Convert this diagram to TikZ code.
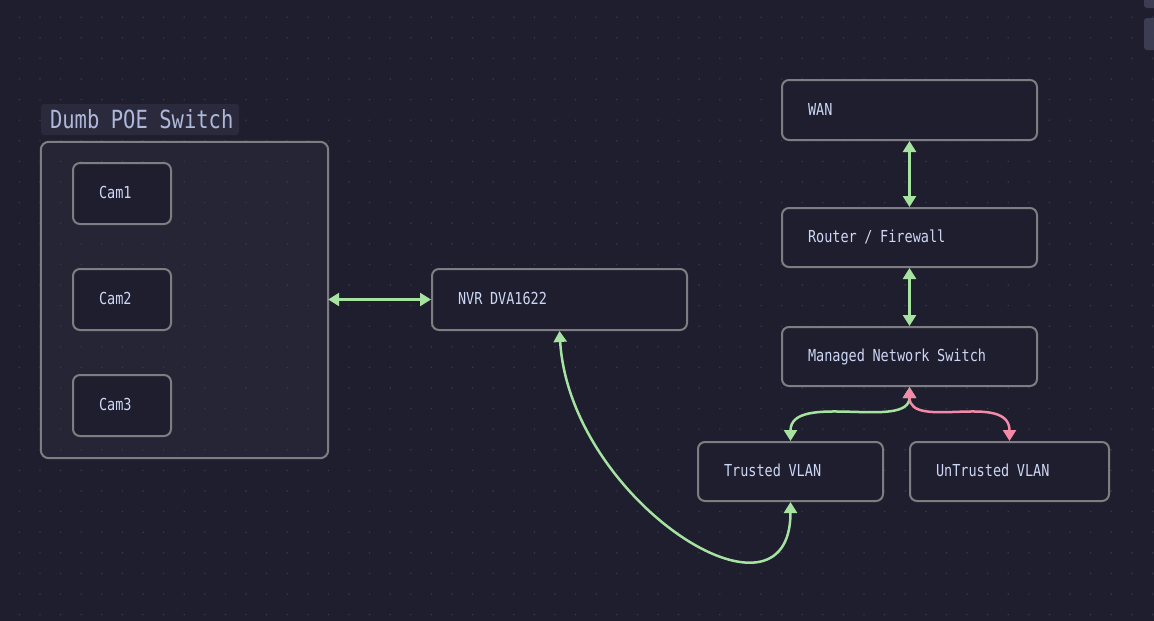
\documentclass[tikz,border=0pt]{standalone}
\usepackage{fontspec}
\newfontfamily\monof[FakeStretch=0.82]{DejaVu Sans Mono}
\newcommand\msp{\hbox to 0.46em{}}
\usetikzlibrary{arrows.meta}
\definecolor{bgc}{HTML}{1E1E2E}
\definecolor{nodec}{HTML}{1E1E2E}
\definecolor{groupc}{HTML}{252535}
\definecolor{titlec}{HTML}{2A2A3C}
\definecolor{bordc}{HTML}{7E7E82}
\definecolor{txtc}{HTML}{CDD6F4}
\definecolor{titletxt}{HTML}{AEB8DA}
\definecolor{dotc}{HTML}{3A3B50}
\definecolor{greenc}{HTML}{A6E3A1}
\definecolor{pinkc}{HTML}{F38BA8}
\definecolor{uic}{HTML}{3C3D52}
\begin{document}
\begin{tikzpicture}[x=1pt,y=-1pt,
  box/.style={draw=bordc, line width=2pt, rounded corners=7pt, fill=nodec,
    inner xsep=26pt, inner ysep=0pt, text height=12pt, text depth=2pt,
    align=left, text=txtc, font=\monof\fontsize{16.5}{18}\selectfont},
  groupbox/.style={rounded corners=8pt, fill=groupc,
    minimum width=287pt, minimum height=316pt, inner sep=0pt},
  titlebox/.style={fill=titlec, rounded corners=3pt, inner xsep=9pt, inner ysep=0pt,
    text height=19pt, text depth=0.6pt, minimum height=31pt, align=left,
    text=titletxt, font=\monof\fontsize{25}{27}\selectfont},
  link/.style={line width=2.5pt, draw=#1, {Triangle[length=11pt,width=13pt]}-{Triangle[length=11pt,width=13pt]}}
]
\useasboundingbox (0,0) rectangle (1154,621);
\fill[bgc] (0,0) rectangle (1154,621);
% UI elements in corner
\fill[uic, rounded corners=3pt] (1144,-6) rectangle (1162,8);
\fill[uic, rounded corners=3pt] (1144,18) rectangle (1162,50);

% group
\node[groupbox] (group) at (184.5,300) {};

% dot grid
\foreach \i in {0,...,56}{\foreach \j in {0,...,30}{
  \fill[dotc] (-1.2+20.6*\i, -3.4+20.6*\j) circle (0.8pt);}}

\draw[bordc, line width=2pt, rounded corners=8pt] (group.north west) rectangle (group.south east);

\node[titlebox, text width=180pt] (title) at (140,119.5) {Dumb\msp POE\msp Switch};

\node[box, text width=46pt, minimum height=61pt] (cam1) at (122,193.5) {Cam1};
\node[box, text width=46pt, minimum height=61pt] (cam2) at (122,299.5) {Cam2};
\node[box, text width=46pt, minimum height=61pt] (cam3) at (122,405.5) {Cam3};

\node[box, text width=203pt, minimum height=61pt] (nvr) at (559.5,299.5) {NVR\msp DVA1622};
\node[box, text width=203pt, minimum height=60pt] (wan) at (909.5,110) {WAN};
\node[box, text width=203pt, minimum height=59pt] (router) at (909.5,237.5) {Router\msp/\msp Firewall};
\node[box, text width=203pt, minimum height=59pt] (managed) at (909.5,356.5) {Managed\msp Network\msp Switch};
\node[box, text width=133pt, minimum height=59pt] (trusted) at (790.5,471.5) {Trusted\msp VLAN};
\node[box, text width=147pt, minimum height=59pt] (untrusted) at (1009.5,471.5) {UnTrusted\msp VLAN};

% connectors
\draw[link=greenc] (group.east |- nvr.west) -- (nvr.west);
\draw[link=greenc] (wan.south) -- (router.north);
\draw[link=greenc] (router.south) -- (managed.north);
\draw[link=greenc] (nvr.south) .. controls +(10.5,170) and +(0,139) .. (trusted.south);
\draw[link=greenc] (managed.south) .. controls +(0,44) and +(0,-50) .. (trusted.north);
\draw[link=pinkc] (managed.south) .. controls +(0,44) and +(0,-50) .. (untrusted.north);
\end{tikzpicture}
\end{document}
